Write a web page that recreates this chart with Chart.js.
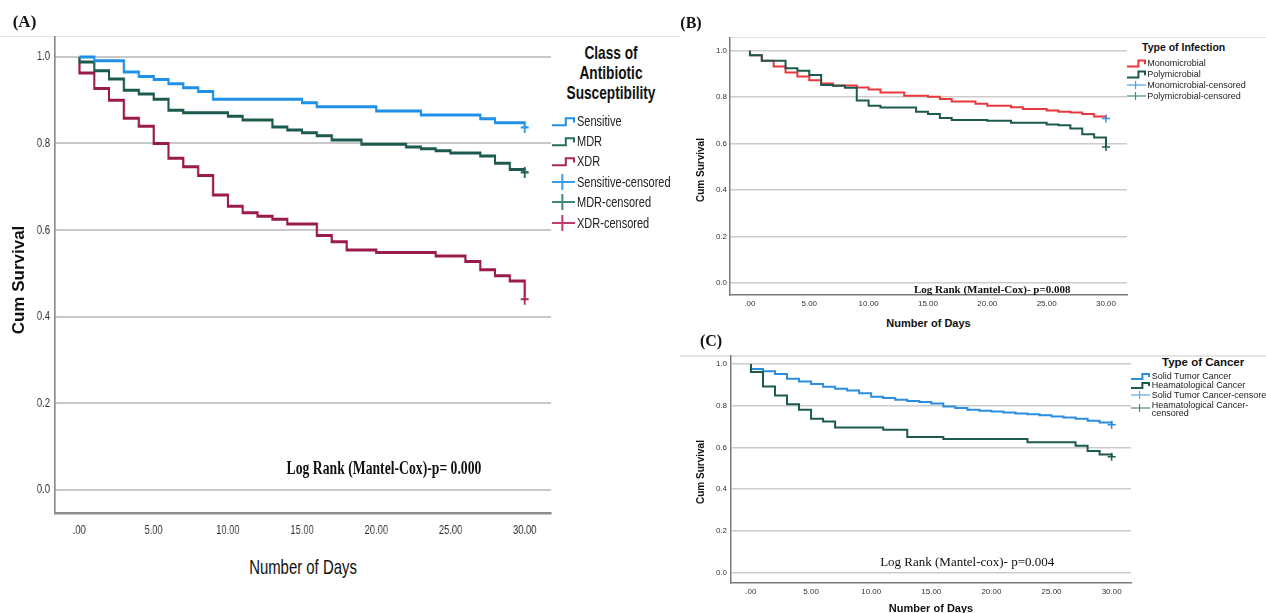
<!DOCTYPE html>
<html><head><meta charset="utf-8">
<script src="https://cdn.jsdelivr.net/npm/chart.js@4.4.1/dist/chart.umd.min.js"></script>
<style>
html,body{margin:0;padding:0;background:#fff;}
#page{position:relative;width:1266px;height:613px;overflow:hidden;background:#fff;font-family:'Liberation Sans',Arial,sans-serif;color:#111;}
canvas{position:absolute;}
.t{position:absolute;white-space:nowrap;line-height:1;}
.serif{font-family:'Liberation Serif','Times New Roman',serif;}
.hl{position:absolute;height:1px;background:#e4e4e4;}
svg{position:absolute;overflow:visible;}
</style></head><body><div id="page">
<div class="hl" style="left:0;top:36px;width:680px;"></div>
<div class="hl" style="left:730px;top:37px;width:536px;"></div>
<div class="hl" style="left:680px;top:355px;width:586px;height:2px;"></div>
<canvas id="cA" width="778" height="540" style="left:0;top:0;transform-origin:0 0;transform:scaleX(0.72);"></canvas>
<canvas id="cB" width="456" height="285" style="left:680px;top:30px"></canvas>
<canvas id="cC" width="460" height="268" style="left:680px;top:345px"></canvas>
</div>
<script>
// ---------- shared axis data ----------
const days = [0,1,2,3,4,5,6,7,8,9,10,11,12,13,14,15,16,17,18,19,20,21,22,23,24,25,26,27,28,29,30];
const xTickValues = [0,5,10,15,20,25,30];
const xTickLabels = ['.00','5.00','10.00','15.00','20.00','25.00','30.00'];
const yTickValues = [0,0.2,0.4,0.6,0.8,1.0];
const yTickLabels = ['0.0','0.2','0.4','0.6','0.8','1.0'];
const censorDay = 30;

// ---------- Panel A: Class of Antibiotic Susceptibility ----------
const aSensitive = [1.0,0.991,0.991,0.965,0.955,0.948,0.938,0.929,0.92,0.902,0.902,0.902,0.902,0.902,0.902,0.894,0.885,0.885,0.885,0.885,0.875,0.875,0.875,0.866,0.866,0.866,0.866,0.857,0.848,0.848,0.837];
const aMDR = [0.988,0.968,0.949,0.923,0.914,0.902,0.877,0.871,0.871,0.871,0.863,0.854,0.854,0.838,0.831,0.825,0.818,0.808,0.808,0.798,0.798,0.798,0.792,0.788,0.783,0.778,0.778,0.771,0.754,0.74,0.733];
const aXDR = [0.963,0.927,0.9,0.858,0.84,0.8,0.766,0.746,0.726,0.681,0.655,0.64,0.632,0.625,0.614,0.614,0.587,0.573,0.554,0.554,0.548,0.548,0.548,0.548,0.54,0.54,0.527,0.508,0.494,0.482,0.44];

// ---------- Panel B: Type of Infection ----------
const bMono = [0.981,0.957,0.932,0.906,0.889,0.873,0.859,0.85,0.85,0.842,0.833,0.82,0.82,0.806,0.806,0.802,0.792,0.781,0.781,0.771,0.763,0.763,0.756,0.749,0.749,0.742,0.737,0.734,0.727,0.717,0.708];
const bPoly = [0.981,0.957,0.957,0.925,0.914,0.895,0.852,0.849,0.84,0.786,0.763,0.755,0.755,0.755,0.737,0.727,0.71,0.702,0.702,0.702,0.698,0.698,0.69,0.69,0.69,0.682,0.679,0.665,0.64,0.626,0.585];

// ---------- Panel C: Type of Cancer ----------
const cSolid = [0.976,0.965,0.952,0.929,0.916,0.904,0.891,0.881,0.873,0.859,0.843,0.836,0.828,0.822,0.817,0.81,0.796,0.788,0.78,0.775,0.772,0.767,0.762,0.759,0.754,0.748,0.743,0.737,0.727,0.719,0.708];
const cHaem = [0.961,0.892,0.849,0.807,0.78,0.737,0.724,0.695,0.695,0.695,0.695,0.684,0.684,0.65,0.65,0.65,0.64,0.64,0.64,0.64,0.64,0.64,0.64,0.624,0.624,0.624,0.624,0.608,0.582,0.566,0.555];

function steps(vals){ return [{x:0,y:1}].concat(days.map((d,i)=>({x:d,y:vals[i]}))); }
function censor(vals){ return [{x:censorDay,y:vals[vals.length-1]}]; }

function makeChart(id,p){
  const lines = p.series.map(s=>({data:steps(s.vals),borderColor:s.color,borderWidth:p.lw,stepped:true,pointRadius:0,fill:false,order:0}));
  const marks = p.series.map(s=>({data:censor(s.vals),showLine:false,pointStyle:'cross',pointRadius:p.cr,pointBorderWidth:p.cw,pointBorderColor:s.ccolor,borderColor:s.ccolor,backgroundColor:s.ccolor,order:-1}));
  return new Chart(document.getElementById(id),{
    type:'line',
    data:{datasets:lines.concat(marks)},
    options:{
      responsive:false,animation:false,devicePixelRatio:1,
      layout:{padding:p.pad},
      plugins:{legend:{display:false},tooltip:{enabled:false}},
      scales:{
        x:{type:'linear',min:p.xmin,max:p.xmax,
          afterBuildTicks:s=>{s.ticks=xTickValues.map(v=>({value:v}));},
          afterFit:s=>{s.height=p.xh;},
          ticks:{autoSkip:false,maxRotation:0,padding:p.xpad,color:p.tc,font:p.tf,callback:(v,i)=>xTickLabels[i]},
          grid:{color:'rgba(0,0,0,0)',drawTicks:false},
          border:{color:p.bc,width:p.bw}},
        y:{type:'linear',min:p.ymin,max:p.ymax,
          afterBuildTicks:s=>{s.ticks=yTickValues.map(v=>({value:v}));},
          afterFit:s=>{s.width=p.yw;},
          ticks:{autoSkip:false,padding:p.ypad,color:p.tc,font:p.tf,callback:(v,i)=>yTickLabels[i]},
          grid:{color:p.gc,lineWidth:p.gw,drawTicks:false},
          border:{color:p.bc,width:p.bw}}
      }
    }
  });
}

// Panel A canvas is drawn 1/0.72 wider and compressed horizontally, like the reference
makeChart('cA',{
  series:[
    {vals:aSensitive,color:'#1f90e8',ccolor:'#2b95ea'},
    {vals:aMDR,color:'#1c5a4d',ccolor:'#1f5e50'},
    {vals:aXDR,color:'#9a1a4b',ccolor:'#a8285a'}],
  lw:3,cr:5.5,cw:2.2,
  pad:{left:0,top:37,right:12.72,bottom:0},
  xmin:-1.644,xmax:31.77,ymin:-0.054,ymax:1.046,
  xh:27,yw:76.39,xpad:10,ypad:7,
  tc:'#333',tf:{family:"'Liberation Sans',Arial",size:13},
  gc:'#c9c9c9',gw:2,bc:'#8c8c8c',bw:2.4
});
makeChart('cB',{
  series:[
    {vals:bPoly,color:'#1c5a4d',ccolor:'#1f5e50'},
    {vals:bMono,color:'#e8383d',ccolor:'#3b90e0'}],
  lw:2,cr:4,cw:1.5,
  pad:{left:0,top:8,right:9,bottom:0},
  xmin:-1.68,xmax:31.77,ymin:-0.053,ymax:1.055,
  xh:20,yw:50,xpad:4,ypad:3,
  tc:'#333',tf:{family:"'Liberation Sans',Arial",size:8},
  gc:'#cccccc',gw:1.5,bc:'#7a7a7a',bw:1.5
});
makeChart('cC',{
  series:[
    {vals:cHaem,color:'#1c5a4d',ccolor:'#1f5e50'},
    {vals:cSolid,color:'#2a8de0',ccolor:'#2a8de0'}],
  lw:2,cr:4,cw:1.5,
  pad:{left:0,top:11,right:9,bottom:0},
  xmin:-1.66,xmax:31.61,ymin:-0.051,ymax:1.038,
  xh:30,yw:51,xpad:4,ypad:4,
  tc:'#333',tf:{family:"'Liberation Sans',Arial",size:8},
  gc:'#cccccc',gw:1.5,bc:'#7a7a7a',bw:1.5
});

// ---------- text and legends ----------
const page = document.getElementById('page');
function txt(s,x,y,o){
  o=o||{};
  const d=document.createElement('div');
  d.className='t'+(o.serif?' serif':'');
  d.textContent=s;
  d.style.fontSize=(o.size||12)+'px';
  d.style.fontWeight=o.bold?'bold':'normal';
  d.style.color=o.color||'#111';
  d.style.left=x+'px'; d.style.top=y+'px';
  const sx=o.sx||1;
  if(o.rot){ d.style.transform='translate(-50%,-50%) rotate(-90deg) scaleX('+sx+')'; }
  else if(o.left){ d.style.transformOrigin='0 50%'; d.style.transform='translateY(-50%) scaleX('+sx+')'; }
  else { d.style.transform='translate(-50%,-50%) scaleX('+sx+')'; }
  page.appendChild(d);
}
const NS='http://www.w3.org/2000/svg';
function icon(kind,x1,x2,y,color,lw,h){
  const s=document.createElementNS(NS,'svg');
  s.setAttribute('width',x2-x1); s.setAttribute('height',20);
  s.style.left=x1+'px'; s.style.top=(y-10)+'px';
  const w=x2-x1;
  if(kind==='step'){
    const pl=document.createElementNS(NS,'polyline');
    const pts=[[0,10+h*0.6],[w*0.6,10+h*0.6],[w*0.6,10-h*0.4],[w-1,10-h*0.4],[w-1,10+h*0.2]];
    pl.setAttribute('points',pts.map(p=>p.join(',')).join(' '));
    pl.setAttribute('fill','none'); pl.setAttribute('stroke',color); pl.setAttribute('stroke-width',lw);
    s.appendChild(pl);
  } else {
    const a=document.createElementNS(NS,'line');
    a.setAttribute('x1',0);a.setAttribute('x2',w);a.setAttribute('y1',10);a.setAttribute('y2',10);
    a.setAttribute('stroke',color);a.setAttribute('stroke-width',lw);
    const b=document.createElementNS(NS,'line');
    b.setAttribute('x1',w*0.45);b.setAttribute('x2',w*0.45);b.setAttribute('y1',10-h);b.setAttribute('y2',10+h);
    b.setAttribute('stroke',color);b.setAttribute('stroke-width',lw);
    s.appendChild(a);s.appendChild(b);
  }
  page.appendChild(s);
}

// Panel A
txt('(A)',24.5,21,{serif:true,bold:true,size:17});
txt('Cum Survival',18,280,{bold:true,size:17,rot:true});
txt('Number of Days',302.5,565.7,{size:21,sx:0.71});
txt('Log Rank (Mantel-Cox)-p= 0.000',383.5,468,{serif:true,bold:true,size:18,sx:0.76});
txt('Class of',611,51.7,{bold:true,size:19,sx:0.72});
txt('Antibiotic',611,71.7,{bold:true,size:19,sx:0.72});
txt('Susceptibility',611,91.7,{bold:true,size:19,sx:0.72});
const aLeg=[['Sensitive','step','#1f90e8',121.3],['MDR','step','#2a6b5e',141.3],['XDR','step','#a8285a',161.3],
  ['Sensitive-censored','cross','#3a9be8',182],['MDR-censored','cross','#3d8a7c',202],['XDR-censored','cross','#c03a6e',223]];
aLeg.forEach(l=>{ icon(l[1],552,575,l[3],l[2],2,l[1]==='step'?7:8); txt(l[0],577,l[3],{left:true,size:15.5,sx:0.71,color:'#222'}); });

// Panel B
txt('(B)',691,22.5,{serif:true,bold:true,size:16});
txt('Cum Survival',700.5,170,{bold:true,size:10,rot:true});
txt('Number of Days',928.5,322.7,{bold:true,size:11});
txt('Log Rank (Mantel-Cox)- p=0.008',992.2,288.7,{serif:true,bold:true,size:11});
txt('Type of Infection',1142,47.3,{left:true,bold:true,size:10.5});
const bLeg=[['Monomicrobial','step','#e8383d',63.3],['Polymicrobial','step','#1c5a4d',74.2],
  ['Monomicrobial-censored','cross','#4a9be6',85.1],['Polymicrobial-censored','cross','#4a8a80',96]];
bLeg.forEach(l=>{ icon(l[1],1127,1146,l[3],l[2],l[1]==='step'?2:1.2,l[1]==='step'?6:4); txt(l[0],1147.3,l[3],{left:true,size:9,color:'#222'}); });

// Panel C
txt('(C)',711,340.5,{serif:true,bold:true,size:16});
txt('Cum Survival',700.5,471.7,{bold:true,size:10,rot:true});
txt('Number of Days',931,608.3,{bold:true,size:11});
txt('Log Rank (Mantel-cox)- p=0.004',967.2,560.7,{serif:true,size:13});
txt('Type of Cancer',1162,362.5,{left:true,bold:true,size:11.5});
const cLeg=[['Solid Tumor Cancer','step','#2a8de0',376],['Heamatological Cancer','step','#1c5a4d',385.3],
  ['Solid Tumor Cancer-censore','cross','#5aa8ea',394.5],['Heamatological Cancer-','cross','#4a8a7c',408]];
cLeg.forEach(l=>{ icon(l[1],1131,1150,l[3],l[2],l[1]==='step'?2:1.2,l[1]==='step'?5:4); });
txt('Solid Tumor Cancer',1151.7,376,{left:true,size:9,color:'#222'});
txt('Heamatological Cancer',1151.7,385.3,{left:true,size:9,color:'#222'});
txt('Solid Tumor Cancer-censore',1151.7,394.5,{left:true,size:9,color:'#222'});
txt('Heamatological Cancer-',1151.7,404.5,{left:true,size:9,color:'#222'});
txt('censored',1151.7,413,{left:true,size:9,color:'#222'});
</script>
</body></html>
